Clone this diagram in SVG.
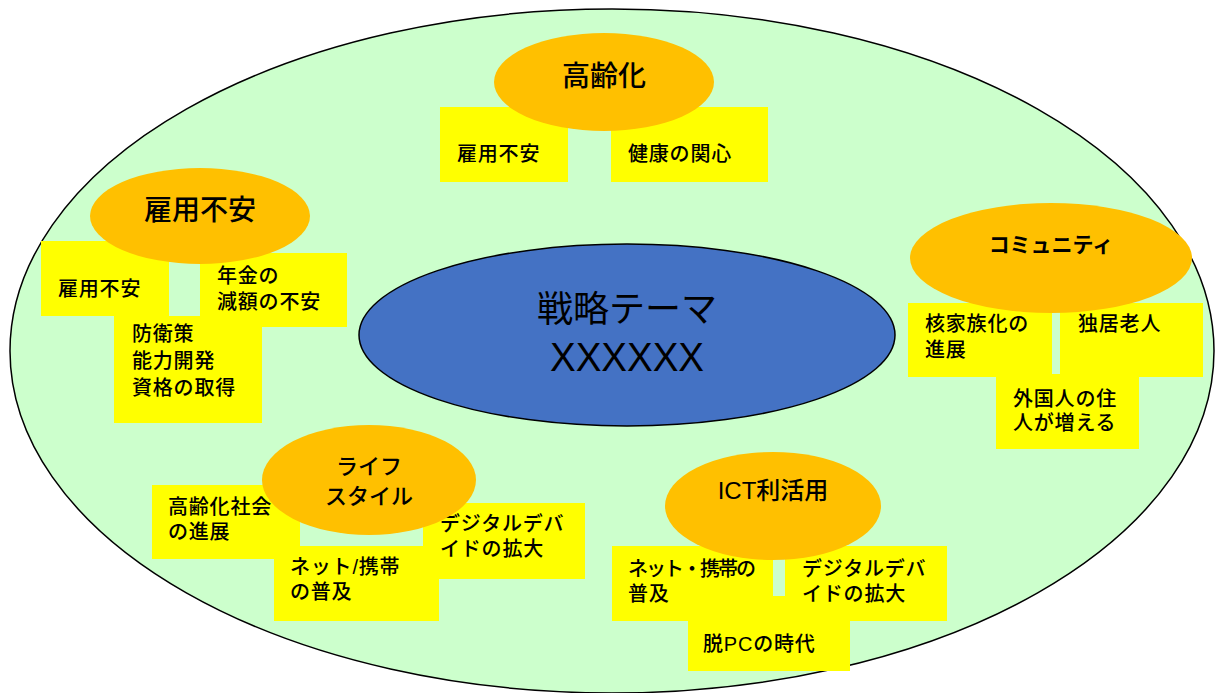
<svg xmlns="http://www.w3.org/2000/svg" width="1215" height="693" viewBox="0 0 1215 693">
<style>
text{font-family:"Liberation Sans","Noto Sans CJK JP",sans-serif;fill:#000}
.box{fill:#FFFF00}
.topic{fill:#FFC000}
.b{font-size:20px;letter-spacing:0.8px;font-weight:500}
.t{font-size:28px;text-anchor:middle;font-weight:500}
.m{text-anchor:middle;font-weight:500}
</style>
<rect width="1215" height="693" fill="#fff"/>
<g id="frame">
<ellipse cx="612" cy="351" rx="602" ry="342" fill="#CCFFCC" stroke="#000" stroke-width="1.5"/>
</g>
<g id="connectors"/>
<g id="center">
<ellipse cx="627" cy="335" rx="268" ry="91" fill="#4472C4" stroke="#000" stroke-width="1.5"/>
<text x="627" y="322" text-anchor="middle" font-size="36">戦略テーマ</text>
<text x="627" y="371" text-anchor="middle" font-size="40" textLength="154" lengthAdjust="spacingAndGlyphs">XXXXXX</text>
</g>
<g id="koureika">
<rect class="box" x="440" y="107" width="128" height="75"/>
<rect class="box" x="611" y="107" width="157" height="75"/>
<text class="b" x="457" y="161">雇用不安</text>
<text class="b" x="628" y="161">健康の関心</text>
<ellipse class="topic" cx="604" cy="82" rx="110" ry="49"/>
<text class="t" x="604" y="86">高齢化</text>
</g>
<g id="koyou">
<rect class="box" x="41" y="241" width="128" height="75"/>
<rect class="box" x="114" y="316" width="148" height="107"/>
<rect class="box" x="200" y="253" width="147" height="74"/>
<text class="b" x="58" y="296">雇用不安</text>
<text class="b" x="132" y="341">防衛策</text>
<text class="b" x="132" y="368">能力開発</text>
<text class="b" x="132" y="395">資格の取得</text>
<text class="b" x="217" y="283">年金の</text>
<text class="b" x="217" y="309">減額の不安</text>
<ellipse class="topic" cx="200" cy="216" rx="110" ry="48"/>
<text class="t" x="200" y="220">雇用不安</text>
</g>
<g id="community">
<rect class="box" x="908" y="303" width="144" height="74"/>
<rect class="box" x="1060" y="303" width="143" height="74"/>
<rect class="box" x="996" y="374" width="143" height="75"/>
<text class="b" x="925" y="331">核家族化の</text>
<text class="b" x="925" y="357">進展</text>
<text class="b" x="1078" y="331">独居老人</text>
<text class="b" x="1013" y="406">外国人の住</text>
<text class="b" x="1013" y="430">人が増える</text>
<ellipse class="topic" cx="1051" cy="258" rx="141" ry="55"/>
<text x="1051" y="252" text-anchor="middle" font-size="21" font-weight="bold">コミュニティ</text>
</g>
<g id="lifestyle">
<rect class="box" x="152" y="485" width="148" height="74"/>
<rect class="box" x="274" y="546" width="165" height="75"/>
<rect class="box" x="423" y="503" width="162" height="76"/>
<text class="b" x="168" y="514">高齢化社会</text>
<text class="b" x="168" y="539">の進展</text>
<text class="b" x="290" y="574">ネット/携帯</text>
<text class="b" x="290" y="599">の普及</text>
<text class="b" x="440" y="531">デジタルデバ</text>
<text class="b" x="440" y="556">イドの拡大</text>
<ellipse class="topic" cx="369" cy="480" rx="107" ry="55"/>
<text x="369" y="474" class="m" font-size="22">ライフ</text>
<text x="369" y="504" class="m" font-size="22">スタイル</text>
</g>
<g id="ict">
<rect class="box" x="612" y="546" width="161" height="75"/>
<rect class="box" x="785" y="546" width="162" height="75"/>
<rect class="box" x="688" y="596" width="162" height="75"/>
<text class="b" x="628" y="576" style="letter-spacing:-2px">ネット・携帯の</text>
<text class="b" x="628" y="601">普及</text>
<text class="b" x="802" y="576">デジタルデバ</text>
<text class="b" x="802" y="601">イドの拡大</text>
<text class="b" x="703" y="651">脱PCの時代</text>
<ellipse class="topic" cx="773" cy="506" rx="108" ry="54"/>
<text x="773" y="499" class="m" font-size="24">ICT利活用</text>
</g>
</svg>
